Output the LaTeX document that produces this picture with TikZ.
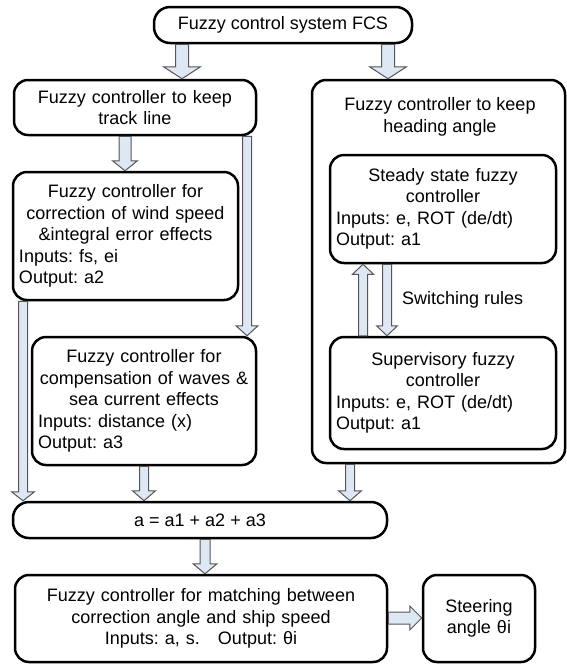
\documentclass[tikz,border=0pt]{standalone}
\usepackage{fontspec}
\setmainfont{Liberation Sans}
\usetikzlibrary{calc}
\definecolor{arrfill}{RGB}{222,232,245}
\definecolor{arrline}{RGB}{85,85,85}
% block arrow from coordinate #1 to coordinate #2; #3 shaft half width, #4 head half width, #5 head length
\newcommand\blockarrow[5]{%
  \coordinate (ba-c) at ($(#2)!#5!(#1)$);
  \draw[barrow] ($(#1)!#3!90:(#2)$) -- ($(ba-c)!#3!90:(#2)$) -- ($(ba-c)!#4!90:(#2)$) -- (#2)
    -- ($(ba-c)!#4!-90:(#2)$) -- ($(ba-c)!#3!-90:(#2)$) -- ($(#1)!#3!-90:(#2)$) -- cycle;}
\frenchspacing
\begin{document}
\begin{tikzpicture}[x=1pt,y=-1pt,
  box/.style={draw, line width=2.5pt, rounded corners=14pt, inner ysep=0pt, inner xsep=6pt,
    font=\fontsize{18}{21.5}\selectfont\frenchspacing},
  txt/.style={inner sep=0pt, font=\fontsize{18}{21.5}\selectfont\frenchspacing},
  barrow/.style={fill=arrfill, draw=arrline, line width=1pt, line join=miter}]
\useasboundingbox (0,0) rectangle (567,665);

% boxes
\node[box, rounded corners=16pt, minimum width=258pt, minimum height=36pt] (fcs) at (283,25) {Fuzzy control system FCS};
\node[box, text width=230pt, align=center, minimum height=55pt] (track) at (135,107.5) {Fuzzy controller to keep\\track line};
\node[box, minimum width=253pt, minimum height=383pt] (head) at (438.5,271.5) {};
\node[txt, align=center] (headtxt) at (440,117) {Fuzzy controller to keep\\heading angle};
\node[box, text width=214pt, minimum height=108pt] (steady) at (443,209)
  {\centering Steady state fuzzy\\controller\par\raggedright Inputs: e, ROT (de/dt)\\Output: a1};
\node[box, text width=214pt, minimum height=112pt] (sup) at (443,393)
  {\centering Supervisory fuzzy\\controller\par\raggedright Inputs: e, ROT (de/dt)\\Output: a1};
\node[txt, anchor=west] (sw) at (402,300) {Switching rules};
\node[box, text width=213pt, minimum height=128pt] (wind) at (125.5,236)
  {\centering Fuzzy controller for\\correction of wind speed\\\&integral error effects\par\raggedright Inputs: fs, ei\\Output: a2};
\node[box, text width=212pt, minimum height=128pt] (comp) at (144,401)
  {\centering Fuzzy controller for\\compensation of waves \&\\sea current effects\par\raggedright Inputs: distance (x)\\Output: a3};
\node[box, rounded corners=16pt, minimum width=374pt, minimum height=36pt] (sum) at (200,520) {a = a1 + a2 + a3};
\node[box, text width=360pt, align=center, minimum height=87pt] (match) at (201,618.5)
  {Fuzzy controller for matching between\\correction angle and ship speed\\Inputs: a, s.\hspace{18pt}Output: θi};
\node[box, text width=100pt, align=center, minimum height=87pt] (steer) at (479,618.5) {Steering\\angle θi};

% block arrows
\coordinate (a1s) at (182,0 |- fcs.south);   \coordinate (a1e) at (182,0 |- track.north);
\coordinate (a2s) at (388,0 |- fcs.south);   \coordinate (a2e) at (388,0 |- head.north);
\coordinate (a3s) at (125,0 |- track.south); \coordinate (a3e) at (125,0 |- wind.north);
\coordinate (a4s) at (247,0 |- track.south); \coordinate (a4e) at (247,0 |- comp.north);
\coordinate (a5s) at (23,0 |- wind.south);   \coordinate (a5e) at (23,0 |- sum.north);
\coordinate (a6s) at (144,0 |- comp.south);  \coordinate (a6e) at (144,0 |- sum.north);
\coordinate (a7s) at (350,0 |- head.south);  \coordinate (a7e) at (350,0 |- sum.north);
\coordinate (a8s) at (205,0 |- sum.south);   \coordinate (a8e) at (205,0 |- match.north);
\coordinate (a9s) at (match.east |- 0,618);  \coordinate (a9e) at (steer.west |- 0,618);
\coordinate (a10s) at (363,0 |- sup.north);  \coordinate (a10e) at (363,0 |- steady.south);
\coordinate (a11s) at (387,0 |- steady.south); \coordinate (a11e) at (387,0 |- sup.north);

\blockarrow{a1s}{a1e}{6.5pt}{18.5pt}{12pt}
\blockarrow{a2s}{a2e}{6.5pt}{18.5pt}{12pt}
\blockarrow{a3s}{a3e}{6pt}{12.5pt}{10pt}
\blockarrow{a4s}{a4e}{4.5pt}{11pt}{10pt}
\blockarrow{a5s}{a5e}{4.5pt}{11.5pt}{9pt}
\blockarrow{a6s}{a6e}{4.5pt}{11.5pt}{10pt}
\blockarrow{a7s}{a7e}{4.5pt}{11.5pt}{10pt}
\blockarrow{a8s}{a8e}{5pt}{12pt}{10pt}
\blockarrow{a9s}{a9e}{6pt}{12pt}{12pt}
\blockarrow{a10s}{a10e}{4.5pt}{10.5pt}{10pt}
\blockarrow{a11s}{a11e}{4.5pt}{10.5pt}{10pt}
\end{tikzpicture}
\end{document}
